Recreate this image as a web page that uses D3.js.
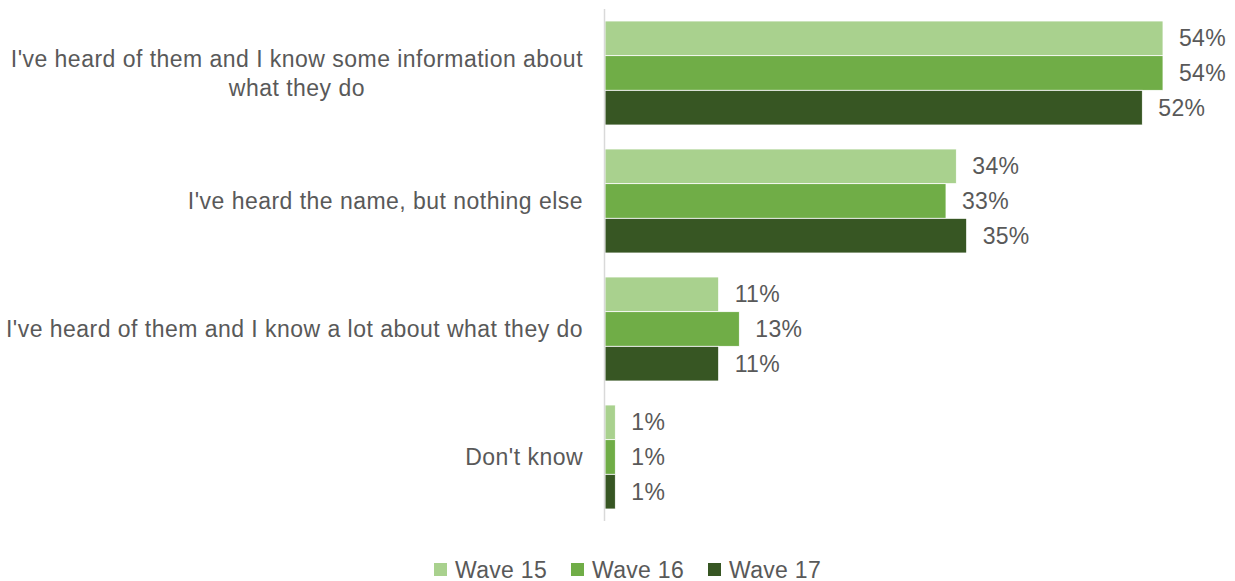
<!DOCTYPE html>
<html>
<head>
<meta charset="utf-8">
<script src="https://cdn.jsdelivr.net/npm/d3@7"></script>
<style>
  html, body { margin: 0; padding: 0; background: #fff; }
  svg { display: block; font-family: "Liberation Sans", Arial, sans-serif; }
</style>
</head>
<body>
<svg id="chart" width="1235" height="581"></svg>
<script>
const categories = [
  "I've heard of them and I know some information about|what they do",
  "I've heard the name, but nothing else",
  "I've heard of them and I know a lot about what they do",
  "Don't know"
];
const seriesNames = ["Wave 15", "Wave 16", "Wave 17"];
const wave15 = [54, 34, 11, 1];
const wave16 = [54, 33, 13, 1];
const wave17 = [52, 35, 11, 1];
const seriesValues = [wave15, wave16, wave17];
const colors = ["#a9d18e", "#70ad47", "#375623"];

const svg = d3.select("#chart");
const textColor = "#595959";
const fontSize = 23;

const x = d3.scaleLinear().domain([0, 60]).range([605, 1225]);
const y0 = d3.scaleBand().domain(d3.range(categories.length)).range([9, 521])
  .paddingInner(0.1875).paddingOuter(0.09375);
const y1 = d3.scaleBand().domain(d3.range(seriesNames.length)).range([0, y0.bandwidth()]);

// bars
const groups = svg.append("g").selectAll("g")
  .data(categories.map((c, i) => ({ c, i })))
  .join("g")
  .attr("transform", d => `translate(0,${y0(d.i)})`);

groups.selectAll("rect")
  .data(d => seriesValues.map((vals, s) => ({ s, v: vals[d.i] })))
  .join("rect")
  .attr("x", x(0))
  .attr("y", d => y1(d.s))
  .attr("width", d => x(d.v) - x(0))
  .attr("height", y1.bandwidth())
  .attr("fill", d => colors[d.s])
  .attr("stroke", "#fff")
  .attr("stroke-width", 0.8);

groups.selectAll("text.val")
  .data(d => seriesValues.map((vals, s) => ({ s, v: vals[d.i] })))
  .join("text")
  .attr("class", "val")
  .attr("x", d => x(d.v) + 16)
  .attr("y", d => y1(d.s) + y1.bandwidth() / 2)
  .attr("dy", "0.35em")
  .attr("fill", textColor)
  .style("font-size", fontSize + "px")
  .style("letter-spacing", "0.3px")
  .text(d => d.v + "%");

// axis line (category axis)
const yAxis = d3.axisLeft(y0).tickSize(0).tickFormat("");
const ax = svg.append("g").attr("transform", `translate(604.5,0)`).call(yAxis);
ax.select(".domain").attr("stroke", "#d9d9d9").attr("stroke-width", 1.5)
  .attr("d", "M0,9V521");

// category labels
const labelRight = 583;
const lineH = 29;
categories.forEach((c, i) => {
  const lines = c.split("|");
  const cy = y0(i) + y0.bandwidth() / 2;
  const t = svg.append("text")
    .attr("fill", textColor)
    .style("font-size", fontSize + "px")
    .style("letter-spacing", "0.47px")
    .attr("text-anchor", "middle");
  const tspans = lines.map((l, k) => t.append("tspan")
    .attr("y", cy + (k - (lines.length - 1) / 2) * lineH)
    .attr("dy", "0.35em")
    .text(l));
  const maxW = d3.max(tspans, ts => ts.node().getComputedTextLength());
  tspans.forEach(ts => ts.attr("x", labelRight - maxW / 2));
});

// legend
const legendX = [434, 571, 708];
const legend = svg.append("g");
seriesNames.forEach((n, s) => {
  legend.append("rect")
    .attr("x", legendX[s]).attr("y", 563)
    .attr("width", 13).attr("height", 13)
    .attr("fill", colors[s]);
  legend.append("text")
    .attr("x", legendX[s] + 21).attr("y", 577.5)
    .attr("fill", textColor)
    .style("font-size", fontSize + "px")
    .style("letter-spacing", "0.3px")
    .text(n);
});
</script>
</body>
</html>
